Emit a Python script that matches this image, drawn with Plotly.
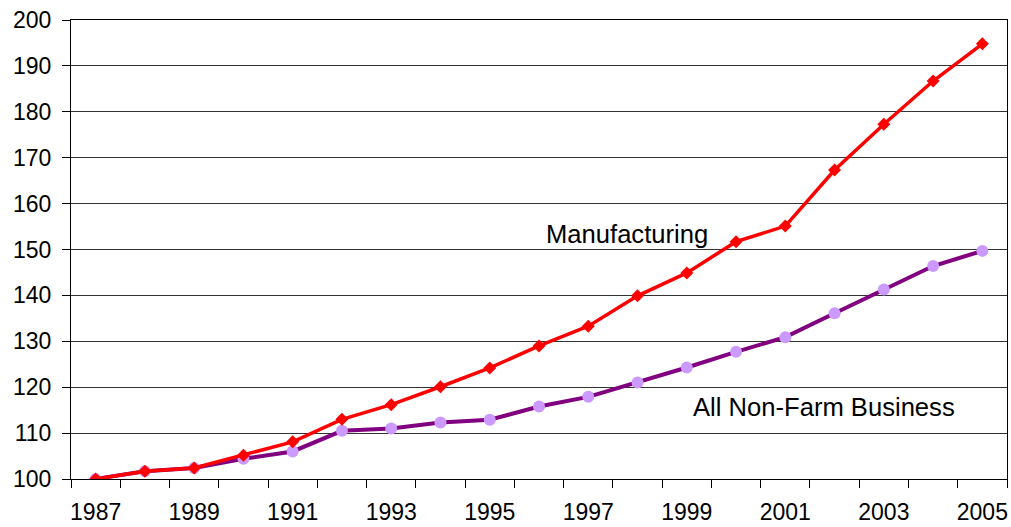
import plotly.graph_objects as go

years = list(range(1987, 2006))
manufacturing = [100, 101.7, 102.4, 105.2, 108.1, 113.0, 116.2, 120.1, 124.2, 129.0,
                 133.3, 139.9, 144.9, 151.7, 155.1, 167.3, 177.3, 186.7, 194.8]
nonfarm = [100, 101.7, 102.4, 104.4, 106.0, 110.5, 111.0, 112.3, 112.9, 115.8,
           117.9, 121.0, 124.3, 127.7, 130.9, 136.1, 141.3, 146.4, 149.7]
label_years = [1987, 1989, 1991, 1993, 1995, 1997, 1999, 2001, 2003, 2005]
y_ticks = list(range(100, 201, 10))

font = "Liberation Sans, Arial, sans-serif"

fig = go.Figure()
fig.add_trace(go.Scatter(
    x=years, y=nonfarm, mode="lines+markers", name="All Non-Farm Business",
    line=dict(color="#800080", width=4),
    marker=dict(symbol="circle", size=12, color="#CC99FF"),
))
fig.add_trace(go.Scatter(
    x=years, y=manufacturing, mode="lines+markers", name="Manufacturing",
    line=dict(color="#FF0000", width=3.5),
    marker=dict(symbol="diamond", size=10, color="#FF0000"),
))

fig.add_annotation(x=1996.1, y=153.3, text="Manufacturing", showarrow=False,
                   xanchor="left", yanchor="middle",
                   font=dict(family=font, size=25.6, color="black"))
fig.add_annotation(x=1999.08, y=115.6, text="All Non-Farm Business", showarrow=False,
                   xanchor="left", yanchor="middle",
                   font=dict(family=font, size=25.6, color="black"))

fig.update_layout(
    width=1011, height=527,
    margin=dict(l=71, r=4, t=20, b=48, autoexpand=False),
    paper_bgcolor="white", plot_bgcolor="white",
    showlegend=False,
    font=dict(family=font, size=23, color="black"),
)
fig.update_xaxes(
    range=[1986.5, 2005.5], automargin=False,
    tickmode="array", tickvals=label_years, ticktext=[str(y) for y in label_years],
    ticks="", showgrid=False, zeroline=False,
    showline=True, linecolor="black", linewidth=1, mirror=True,
    ticklabelstandoff=12,
    minor=dict(tick0=1986.5, dtick=1, ticks="outside", ticklen=8,
               tickcolor="black", tickwidth=1, showgrid=False),
    tickfont=dict(family=font, size=23, color="black"),
)
fig.update_yaxes(
    range=[100, 200], tickmode="array", tickvals=y_ticks, automargin=False,
    ticks="outside", ticklen=8, tickcolor="black",
    ticklabelstandoff=6,
    showgrid=True, gridcolor="#333333", gridwidth=1, zeroline=False,
    showline=True, linecolor="black", linewidth=1, mirror=True,
    tickfont=dict(family=font, size=23, color="black"),
)

fig.write_html("out.html")
